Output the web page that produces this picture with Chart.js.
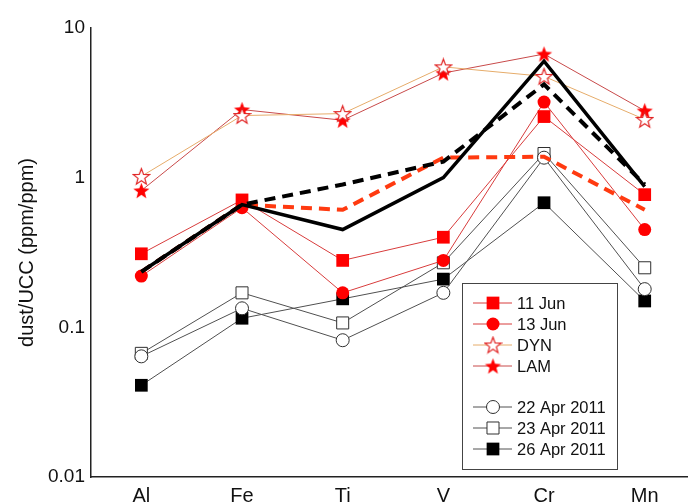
<!DOCTYPE html>
<html><head><meta charset="utf-8">
<script src="https://cdn.jsdelivr.net/npm/chart.js@4.4.0/dist/chart.umd.min.js"></script>
<style>html,body{margin:0;padding:0;background:#fff}#wrap{width:688px;height:503px;position:relative}</style>
</head><body><div id="wrap"><canvas id="c" width="688" height="503"></canvas></div>
<script>
const categories = ['Al','Fe','Ti','V','Cr','Mn'];
const yTicks = [0.01, 0.1, 1, 10];
const jun11 = [0.31, 0.71, 0.28, 0.40, 2.56, 0.77];
const jun13 = [0.22, 0.63, 0.17, 0.28, 3.2, 0.45];
const dyn = [1.02, 2.6, 2.68, 5.5, 4.75, 2.45];
const lam = [0.82, 2.85, 2.42, 5.0, 6.7, 2.8];
const apr22 = [0.064, 0.134, 0.082, 0.17, 1.36, 0.18];
const apr23 = [0.067, 0.17, 0.107, 0.27, 1.45, 0.25];
const apr26 = [0.041, 0.115, 0.155, 0.21, 0.68, 0.15];
const blackSolid = [0.235, 0.66, 0.45, 1.0, 6.0, 0.87];
const blackDashed = [0.235, 0.66, 0.9, 1.28, 4.2, 0.9];
const redDashed = [0.235, 0.66, 0.61, 1.36, 1.38, 0.61];

const FONT = '"Liberation Sans", Arial, sans-serif';

function starImg(size, filled){
  const c = document.createElement('canvas');
  c.width = size; c.height = size;
  const g = c.getContext('2d');
  const cx = size/2, cy = size/2 + size*0.04, R = size/2 - 1, r = R*0.42;
  g.beginPath();
  for(let i=0;i<10;i++){
    const a = -Math.PI/2 + i*Math.PI/5;
    const rr = i%2===0 ? R : r;
    const x = cx + rr*Math.cos(a), y = cy + rr*Math.sin(a);
    if(i===0) g.moveTo(x,y); else g.lineTo(x,y);
  }
  g.closePath();
  if(filled){ g.fillStyle = '#ff0000'; g.fill(); }
  else { g.fillStyle = '#ffffff'; g.fill(); g.strokeStyle = '#e02020'; g.lineWidth = 1.2; g.stroke(); }
  return c;
}
const starFilled = starImg(19, true);
const starOpen = starImg(19, false);

const toXY = arr => arr.map((v,i)=>({x:i,y:v}));

const datasets = [
  {label:'11 Jun', data:toXY(jun11), borderColor:'#d83c3c', borderWidth:1, pointStyle:'rect', pointRadius:9, backgroundColor:'#ff0000', pointBorderColor:'#ff0000', pointBorderWidth:0, order:5, legend:true},
  {label:'13 Jun', data:toXY(jun13), borderColor:'#d83c3c', borderWidth:1, pointStyle:'circle', pointRadius:6.5, backgroundColor:'#ff0000', pointBorderColor:'#ff0000', pointBorderWidth:0, order:5, legend:true},
  {label:'DYN', data:toXY(dyn), borderColor:'#e6ac6a', borderWidth:1, pointStyle:starOpen, pointRadius:9, backgroundColor:'#fff', order:6, legend:true},
  {label:'LAM', data:toXY(lam), borderColor:'#c84a4a', borderWidth:1, pointStyle:starFilled, pointRadius:9, backgroundColor:'#f00', order:6, legend:true},
  {label:'22 Apr 2011', data:toXY(apr22), borderColor:'#505050', borderWidth:1, pointStyle:'circle', pointRadius:6.5, backgroundColor:'#ffffff', pointBorderColor:'#303030', pointBorderWidth:1, order:7, legend:true, gap:true},
  {label:'23 Apr 2011', data:toXY(apr23), borderColor:'#505050', borderWidth:1, pointStyle:'rect', pointRadius:8.5, backgroundColor:'#ffffff', pointBorderColor:'#303030', pointBorderWidth:1, order:7, legend:true},
  {label:'26 Apr 2011', data:toXY(apr26), borderColor:'#505050', borderWidth:1, pointStyle:'rect', pointRadius:9, backgroundColor:'#000000', pointBorderColor:'#000', pointBorderWidth:0, order:7, legend:true},
  {label:'red dashed', data:toXY(redDashed), borderColor:'#ff3a10', borderWidth:4, borderDash:[11,7], pointRadius:0, order:3},
  {label:'black dashed', data:toXY(blackDashed), borderColor:'#000', borderWidth:4, borderDash:[11,7], pointRadius:0, order:2},
  {label:'black solid', data:toXY(blackSolid), borderColor:'#000', borderWidth:3.5, pointRadius:0, order:1}
];

const legendPlugin = {
  id:'customLegend',
  afterDraw(chart){
    const g = chart.ctx;
    const bx = 462, by = 283, bw = 155, bh = 186;
    g.save();
    g.fillStyle = '#fff'; g.fillRect(bx,by,bw,bh);
    g.strokeStyle = '#444'; g.lineWidth = 1; g.strokeRect(bx+0.5,by+0.5,bw,bh);
    let y = 303;
    chart.data.datasets.filter(d=>d.legend).forEach(d=>{
      if(d.gap) y += 20;
      g.strokeStyle = d.borderColor; g.lineWidth = 1; g.setLineDash([]);
      g.beginPath(); g.moveTo(473,y); g.lineTo(512,y); g.stroke();
      if(typeof d.pointStyle === 'string'){
        g.fillStyle = d.backgroundColor; g.strokeStyle = d.pointBorderColor || d.borderColor;
        g.lineWidth = d.pointBorderWidth||0;
        g.beginPath();
        if(d.pointStyle==='circle'){ g.arc(493,y,d.pointRadius,0,Math.PI*2); }
        else { const s = d.pointRadius*Math.SQRT1_2; g.rect(493-s,y-s,2*s,2*s); }
        g.fill(); if(d.pointBorderWidth) g.stroke();
      } else {
        const img = d.pointStyle;
        g.drawImage(img, 493-img.width/2, y-img.height/2);
      }
      g.fillStyle = '#111'; g.font = '16.5px ' + FONT;
      g.textBaseline = 'middle'; g.textAlign = 'left';
      g.fillText(d.label, 517, y+1);
      y += 21;
    });
    g.restore();
  }
};

new Chart(document.getElementById('c'), {
  type:'line',
  data:{datasets},
  options:{
    responsive:false, animation:false,
    layout:{autoPadding:false, padding:{top:28, right:0, left:0, bottom:0}},
    plugins:{legend:{display:false}, tooltip:{enabled:false}},
    elements:{line:{tension:0, fill:false}},
    scales:{
      x:{type:'linear', min:-0.5, max:5.43,
        grid:{display:false, drawTicks:false},
        border:{display:true, color:'#222', width:1.5},
        afterBuildTicks(s){ s.ticks = categories.map((_,i)=>({value:i})); },
        afterFit(s){ s.height = 26; s.paddingRight = 0; s.paddingLeft = 0; },
        ticks:{padding:7, color:'#111', font:{size:20, family:FONT}, callback:(v)=>categories[v], maxRotation:0, autoSkip:false}
      },
      y:{type:'logarithmic', min:0.01, max:10,
        grid:{display:false, drawTicks:false},
        border:{display:true, color:'#222', width:1.5},
        afterBuildTicks(s){ s.ticks = yTicks.map(v=>({value:v})); },
        afterFit(s){ s.width = 91; },
        ticks:{padding:6, color:'#111', font:{size:19, family:FONT}, callback:(v)=>String(v)},
        title:{display:true, text:'dust/UCC (ppm/ppm)', color:'#111', font:{size:20, family:FONT}, padding:{top:15,bottom:0}}
      }
    }
  },
  plugins:[legendPlugin]
});
</script></body></html>
